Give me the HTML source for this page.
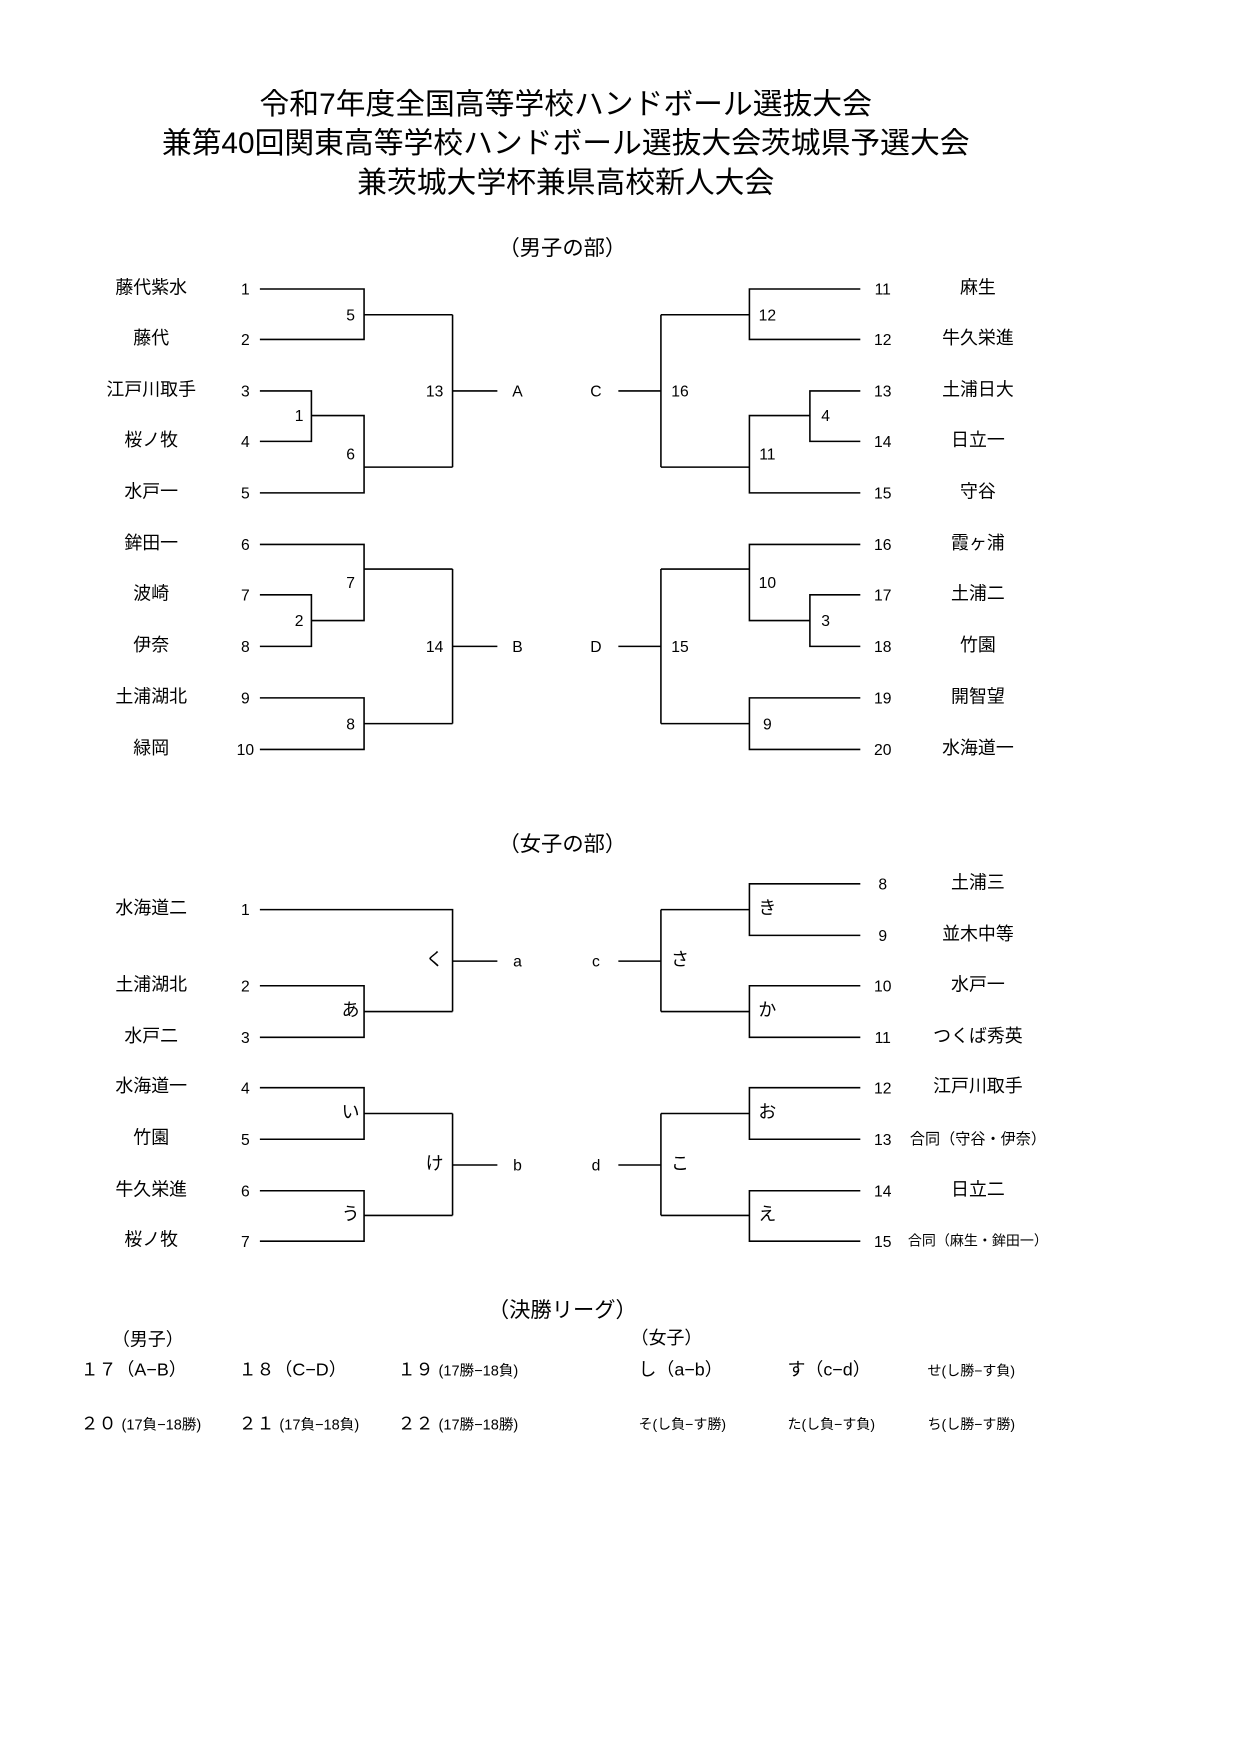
<!DOCTYPE html>
<html><head><meta charset="utf-8"><style>
html,body{margin:0;padding:0;background:#fff;}
body{width:1240px;height:1754px;overflow:hidden;position:relative;}
#w{position:absolute;left:0;top:0;width:1107px;height:1566px;transform:scale(1.1202);transform-origin:0 0;font-family:"Liberation Sans","Noto Sans CJK JP",sans-serif;color:#000;}
.t{position:absolute;transform:translate(-50%,-50%);white-space:nowrap;line-height:1;}
.n{font-size:16px;}
.d{font-size:14px;}
.h{font-size:26.6px;}
.s{font-size:19px;}
.sm{font-size:12.5px;}
.f{font-size:16px;}
.x{font-size:13px;}
svg{position:absolute;left:0;top:0;}
</style></head><body><div id="w">
<div class="t h" style="left:505px;top:93px;">令和7年度全国高等学校ハンドボール選抜大会</div>
<div class="t h" style="left:505px;top:128px;">兼第40回関東高等学校ハンドボール選抜大会茨城県予選大会</div>
<div class="t h" style="left:505px;top:163px;">兼茨城大学杯兼県高校新人大会</div>
<div class="t s" style="left:502px;top:222px;">（男子の部）</div>

<svg width="1107" height="1566" fill="none" stroke="#000" stroke-width="1.4">
<path d="M232 258H325V303H232 M325 281H404 M232 349H278V394H232 M278 371H325V440H232 M325 417H404 M404 281V417 M404 349H444"/>
<path d="M232 486H325V554H278 M232 531H278V577H232 M325 508H404 M232 623H325V669H232 M325 646H404 M404 508V646 M404 577H444"/>
<path d="M768 258H669V303H768 M669 281H590 M768 349H723V394H768 M723 371H669V440H768 M669 417H590 M590 281V417 M590 349H552"/>
<path d="M768 486H669V554H723 M768 531H723V577H768 M669 508H590 M768 623H669V669H768 M669 646H590 M590 508V646 M590 577H552"/>
<path d="M232 812H404V903 M232 880H325V926H232 M325 903H404 M404 858H444"/>
<path d="M232 971H325V1017H232 M325 994H404 M232 1063H325V1108H232 M325 1085H404 M404 994V1085 M404 1040H444"/>
<path d="M768 789H669V835H768 M669 812H590 M768 880H669V926H768 M669 903H590 M590 812V903 M590 858H552"/>
<path d="M768 971H669V1017H768 M669 994H590 M768 1063H669V1108H768 M669 1085H590 M590 994V1085 M590 1040H552"/>
</svg>

<div class="t n" style="left:135px;top:258px;">藤代紫水</div><div class="t d" style="left:219px;top:258px;">1</div>
<div class="t n" style="left:135px;top:303px;">藤代</div><div class="t d" style="left:219px;top:303px;">2</div>
<div class="t n" style="left:135px;top:349px;">江戸川取手</div><div class="t d" style="left:219px;top:349px;">3</div>
<div class="t n" style="left:135px;top:394px;">桜ノ牧</div><div class="t d" style="left:219px;top:394px;">4</div>
<div class="t n" style="left:135px;top:440px;">水戸一</div><div class="t d" style="left:219px;top:440px;">5</div>
<div class="t n" style="left:135px;top:486px;">鉾田一</div><div class="t d" style="left:219px;top:486px;">6</div>
<div class="t n" style="left:135px;top:531px;">波崎</div><div class="t d" style="left:219px;top:531px;">7</div>
<div class="t n" style="left:135px;top:577px;">伊奈</div><div class="t d" style="left:219px;top:577px;">8</div>
<div class="t n" style="left:135px;top:623px;">土浦湖北</div><div class="t d" style="left:219px;top:623px;">9</div>
<div class="t n" style="left:135px;top:669px;">緑岡</div><div class="t d" style="left:219px;top:669px;">10</div>
<div class="t d" style="left:313px;top:281px;">5</div>
<div class="t d" style="left:267px;top:371px;">1</div>
<div class="t d" style="left:313px;top:405px;">6</div>
<div class="t d" style="left:388px;top:349px;">13</div>
<div class="t d" style="left:462px;top:349px;">A</div>
<div class="t d" style="left:313px;top:520px;">7</div>
<div class="t d" style="left:267px;top:554px;">2</div>
<div class="t d" style="left:313px;top:646px;">8</div>
<div class="t d" style="left:388px;top:577px;">14</div>
<div class="t d" style="left:462px;top:577px;">B</div>
<div class="t d" style="left:788px;top:258px;">11</div><div class="t n" style="left:873px;top:258px;">麻生</div>
<div class="t d" style="left:788px;top:303px;">12</div><div class="t n" style="left:873px;top:303px;">牛久栄進</div>
<div class="t d" style="left:788px;top:349px;">13</div><div class="t n" style="left:873px;top:349px;">土浦日大</div>
<div class="t d" style="left:788px;top:394px;">14</div><div class="t n" style="left:873px;top:394px;">日立一</div>
<div class="t d" style="left:788px;top:440px;">15</div><div class="t n" style="left:873px;top:440px;">守谷</div>
<div class="t d" style="left:788px;top:486px;">16</div><div class="t n" style="left:873px;top:486px;">霞ヶ浦</div>
<div class="t d" style="left:788px;top:531px;">17</div><div class="t n" style="left:873px;top:531px;">土浦二</div>
<div class="t d" style="left:788px;top:577px;">18</div><div class="t n" style="left:873px;top:577px;">竹園</div>
<div class="t d" style="left:788px;top:623px;">19</div><div class="t n" style="left:873px;top:623px;">開智望</div>
<div class="t d" style="left:788px;top:669px;">20</div><div class="t n" style="left:873px;top:669px;">水海道一</div>
<div class="t d" style="left:685px;top:281px;">12</div>
<div class="t d" style="left:737px;top:371px;">4</div>
<div class="t d" style="left:685px;top:405px;">11</div>
<div class="t d" style="left:607px;top:349px;">16</div>
<div class="t d" style="left:532px;top:349px;">C</div>
<div class="t d" style="left:685px;top:520px;">10</div>
<div class="t d" style="left:737px;top:554px;">3</div>
<div class="t d" style="left:685px;top:646px;">9</div>
<div class="t d" style="left:607px;top:577px;">15</div>
<div class="t d" style="left:532px;top:577px;">D</div>

<div class="t s" style="left:502px;top:754px;">（女子の部）</div>
<div class="t n" style="left:135px;top:812px;">水海道二</div><div class="t d" style="left:219px;top:812px;">1</div>
<div class="t n" style="left:135px;top:880px;">土浦湖北</div><div class="t d" style="left:219px;top:880px;">2</div>
<div class="t n" style="left:135px;top:926px;">水戸二</div><div class="t d" style="left:219px;top:926px;">3</div>
<div class="t n" style="left:135px;top:971px;">水海道一</div><div class="t d" style="left:219px;top:971px;">4</div>
<div class="t n" style="left:135px;top:1017px;">竹園</div><div class="t d" style="left:219px;top:1017px;">5</div>
<div class="t n" style="left:135px;top:1063px;">牛久栄進</div><div class="t d" style="left:219px;top:1063px;">6</div>
<div class="t n" style="left:135px;top:1108px;">桜ノ牧</div><div class="t d" style="left:219px;top:1108px;">7</div>
<div class="t f" style="left:313px;top:903px;">あ</div>
<div class="t f" style="left:388px;top:858px;">く</div>
<div class="t d" style="left:462px;top:858px;">a</div>
<div class="t f" style="left:313px;top:994px;">い</div>
<div class="t f" style="left:313px;top:1085px;">う</div>
<div class="t f" style="left:388px;top:1040px;">け</div>
<div class="t d" style="left:462px;top:1040px;">b</div>
<div class="t d" style="left:788px;top:789px;">8</div><div class="t n" style="left:873px;top:789px;">土浦三</div>
<div class="t d" style="left:788px;top:835px;">9</div><div class="t n" style="left:873px;top:835px;">並木中等</div>
<div class="t d" style="left:788px;top:880px;">10</div><div class="t n" style="left:873px;top:880px;">水戸一</div>
<div class="t d" style="left:788px;top:926px;">11</div><div class="t n" style="left:873px;top:926px;">つくば秀英</div>
<div class="t d" style="left:788px;top:971px;">12</div><div class="t n" style="left:873px;top:971px;">江戸川取手</div>
<div class="t d" style="left:788px;top:1017px;">13</div><div class="t" style="left:873px;top:1017px;font-size:13.5px;">合同（守谷・伊奈）</div>
<div class="t d" style="left:788px;top:1108px;">15</div><div class="t" style="left:873px;top:1108px;font-size:12.5px;">合同（麻生・鉾田一）</div>
<div class="t d" style="left:788px;top:1063px;">14</div><div class="t n" style="left:873px;top:1063px;">日立二</div>
<div class="t f" style="left:685px;top:812px;">き</div>
<div class="t f" style="left:685px;top:903px;">か</div>
<div class="t f" style="left:607px;top:858px;">さ</div>
<div class="t d" style="left:532px;top:858px;">c</div>
<div class="t f" style="left:685px;top:994px;">お</div>
<div class="t f" style="left:685px;top:1085px;">え</div>
<div class="t f" style="left:607px;top:1040px;">こ</div>
<div class="t d" style="left:532px;top:1040px;">d</div>

<div class="t s" style="left:502px;top:1170px;">（決勝リーグ）</div>
<div class="t f" style="left:132px;top:1197px;">（男子）</div>
<div class="t f" style="left:595px;top:1196px;">（女子）</div>
<div class="t f" style="left:72px;top:1224px;transform:translateY(-50%);">１７（A−B）</div>
<div class="t f" style="left:213px;top:1224px;transform:translateY(-50%);">１８（C−D）</div>
<div class="t f" style="left:355px;top:1224px;transform:translateY(-50%);">１９ <span class="x">(17勝−18負)</span></div>
<div class="t f" style="left:570px;top:1224px;transform:translateY(-50%);">し（a−b）</div>
<div class="t f" style="left:703px;top:1224px;transform:translateY(-50%);">す（c−d）</div>
<div class="t sm" style="left:828px;top:1224px;transform:translateY(-50%);">せ(し勝−す負)</div>
<div class="t f" style="left:72px;top:1272px;transform:translateY(-50%);">２０ <span class="x">(17負−18勝)</span></div>
<div class="t f" style="left:213px;top:1272px;transform:translateY(-50%);">２１ <span class="x">(17負−18負)</span></div>
<div class="t f" style="left:355px;top:1272px;transform:translateY(-50%);">２２ <span class="x">(17勝−18勝)</span></div>
<div class="t sm" style="left:570px;top:1272px;transform:translateY(-50%);">そ(し負−す勝)</div>
<div class="t sm" style="left:703px;top:1272px;transform:translateY(-50%);">た(し負−す負)</div>
<div class="t sm" style="left:828px;top:1272px;transform:translateY(-50%);">ち(し勝−す勝)</div>
</div></body></html>
